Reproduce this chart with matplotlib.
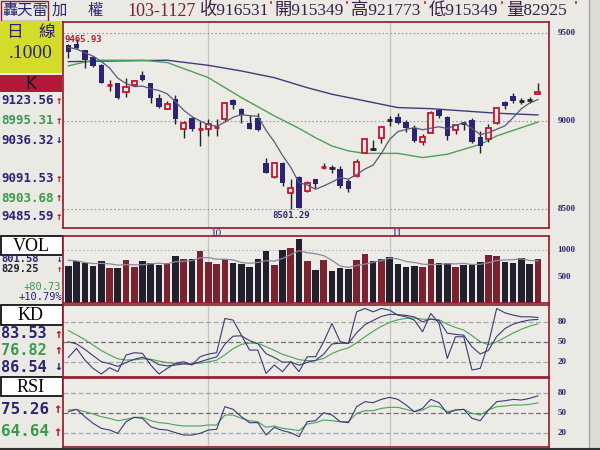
import matplotlib
matplotlib.use("Agg")
import matplotlib.pyplot as plt
from matplotlib.patches import Rectangle

# ---- daily candles (Sep 5 - Nov 27, 2014) ----
opens = [9434, 9438, 9404, 9368, 9320, 9208, 9216, 9167, 9205, 9263, 9216, 9135, 9072, 9129, 8955,
         9021, 8957, 8955, 8966, 9012, 9120, 9068, 8989, 9021, 8765, 8686, 8765, 8591, 8686, 8604,
         8671, 8740, 8733, 8731, 8661, 8690, 8822, 8845, 8907, 9010, 9025, 8996, 8964, 8883, 8936,
         9065, 9027, 8951, 8991, 9006, 8913, 8898, 8989, 9110, 9144, 9118, 9123, 9153.49]
highs = [9441, 9465.93, 9406, 9371, 9324, 9235, 9216, 9248, 9235, 9286, 9220, 9154, 9116, 9150, 9002,
         9025, 9002, 9011, 9011, 9112, 9125, 9078, 9036, 9049, 8794, 8769, 8769, 8670, 8690, 8661,
         8674, 8765, 8750, 8746, 8674, 8784, 8902, 8894, 8974, 9031, 9046, 9008, 8977, 8926, 9059,
         9068, 9031, 8983, 8996, 9021, 8945, 8983, 9083, 9116, 9163, 9135, 9140, 9217.73]
lows = [9362, 9413, 9305, 9311, 9216, 9173, 9129, 9140, 9201, 9229, 9102, 9078, 9068, 8983, 8907,
        8945, 8860, 8917, 8917, 9002, 9068, 8993, 8955, 8945, 8705, 8680, 8633, 8501.29, 8505, 8599,
        8623, 8727, 8708, 8623, 8599, 8686, 8818, 8838, 8879, 8974, 8983, 8940, 8883, 8864, 8932,
        9021, 8894, 8926, 8951, 8879, 8822, 8883, 8983, 9072, 9102, 9097, 9102, 9153.49]
closes = [9396, 9419, 9349, 9315, 9220, 9210, 9133, 9195, 9229, 9235, 9135, 9082, 9097, 9012, 8989,
          8955, 8959, 8987, 8968, 9106, 9093, 9038, 8955, 8951, 8709, 8765, 8648, 8623, 8510, 8648,
          8642, 8742, 8731, 8633, 8614, 8769, 8898, 8840, 8970, 9008, 8989, 8964, 8888, 8913, 9049,
          9030, 8917, 8977, 8989, 8883, 8860, 8964, 9078, 9087, 9116, 9116, 9121, 9165.31]

ma5 = [9420, 9410, 9390, 9370, 9340, 9303, 9245, 9215, 9197, 9200, 9185, 9175, 9156, 9112, 9063,
       9027, 9002, 8980, 8972, 8995, 9023, 9038, 9032, 9029, 8949, 8884, 8806, 8739, 8651, 8639,
       8614, 8633, 8655, 8679, 8672, 8698, 8729, 8751, 8818, 8897, 8941, 8954, 8964, 8952, 8961,
       8969, 8959, 8977, 8992, 8959, 8925, 8935, 8955, 8974, 9021, 9072, 9104, 9123.56]
ma20_idx = [0, 2, 4, 9, 12, 17, 21, 25, 28, 30, 32, 34, 36, 40, 43, 46, 50, 52, 55, 57]
ma20 = [9315, 9337, 9347, 9347, 9334, 9248, 9135, 9031, 8960, 8907, 8860, 8832, 8818, 8818, 8794,
        8813, 8869, 8917, 8964, 8995.31]
ma60_idx = [0, 12, 17, 21, 25, 29, 32, 36, 40, 44, 48, 52, 57]
ma60 = [9339, 9347, 9318, 9286, 9248, 9191, 9154, 9116, 9078, 9072, 9059, 9046, 9036.32]

volume = [704, 797, 767, 704, 797, 661, 674, 815, 693, 791, 760, 722, 760, 896, 828, 828, 989, 772,
          748, 828, 760, 748, 693, 828, 994, 722, 1000, 1055, 1211, 790, 630, 815, 611, 674, 656,
          815, 933, 791, 841, 883, 748, 686, 698, 680, 841, 760, 760, 680, 730, 730, 778, 908, 896,
          778, 760, 859, 748, 829.25]
vol_ma = [815, 800, 770, 750, 754, 745, 721, 730, 728, 727, 747, 756, 745, 786, 793, 807, 860, 863,
          833, 833, 819, 771, 755, 771, 805, 797, 847, 920, 996, 956, 937, 900, 811, 704, 677, 714,
          738, 774, 807, 853, 839, 790, 771, 739, 731, 733, 748, 744, 754, 732, 736, 765, 808, 818,
          824, 840, 808, 801.58]

rsv = [26.5, 40, 22.5, 10, 1.5, 11, 5, 30, 33.5, 32.5, 15, 1.5, 10, 17.5, 20, 15, 27.5, 31.5, 33.5,
       85, 82.5, 60, 37.5, 37.5, 2.5, 15, 5, 20, 5, 27.5, 27.5, 50, 77.5, 50, 47.5, 95, 100, 95, 100,
       97.5, 90, 87.5, 82.5, 65, 92.5, 77.5, 25, 57.5, 57.5, 7.5, 10, 47.5, 100, 93.5, 90, 87.5, 87.5,
       86.54]
k_line = [50, 46.7, 38.6, 29.1, 19.9, 17, 13, 18.7, 23.6, 26.6, 22.7, 15.6, 13.7, 15, 16.7, 16.1, 19.9,
          23.8, 27.1, 46.4, 58.4, 58.9, 51.8, 47, 32.1, 26.4, 19.3, 19.6, 14.7, 19, 21.9, 31.3, 46.7,
          47.8, 47.7, 63.5, 75.6, 82.1, 88, 91.2, 90.8, 89.7, 87.3, 79.9, 84.1, 81.9, 62.9, 61.1, 59.9,
          42.4, 31.6, 36.9, 57.9, 69.8, 76.5, 80.2, 82.7, 83.53]
d_line = [67, 60.3, 53.1, 45.1, 36.7, 30.2, 24.4, 22.5, 22.9, 24.2, 23.7, 21, 18.6, 17.4, 17.2, 16.9,
          17.9, 19.8, 22.2, 30.3, 39.7, 46.1, 48, 47.7, 42.5, 37.1, 31.1, 27.2, 23, 21.6, 21.7, 24.9,
          32.2, 37.4, 40.8, 48.4, 57.5, 65.7, 73.1, 79.1, 83, 85.2, 85.9, 83.9, 83.9, 83.2, 76.5, 71.4,
          67.6, 59.2, 50, 45.6, 49.7, 56.4, 63.1, 68.8, 73.5, 76.82]

rsi_fast = [51.5, 55, 44, 34, 26.5, 24, 19, 36.5, 43, 41.5, 29, 25, 24, 20, 16.5, 16.5, 19, 24, 25, 59,
            55, 44, 35, 35, 16.5, 28, 23, 20, 14, 36.5, 38, 50, 46.5, 36.5, 35, 59, 66.5, 65, 70, 73,
            70, 61.5, 51.5, 56.5, 70, 65, 49, 54, 55, 41.5, 38, 54, 66.5, 68, 70, 69, 71.5, 75.26]
rsi_slow = [54, 55, 51.5, 48, 44, 41.5, 38, 40, 43, 43, 38, 35, 34, 31.5, 30, 30, 30, 31.5, 31.5, 46.5,
            46.5, 41.5, 38, 36.5, 28, 30, 26.5, 25, 23, 33, 35, 39, 38, 36.5, 36.5, 49, 53, 53, 56.5,
            58, 58, 55, 51.5, 54, 60, 59, 51.5, 54, 55, 49, 46.5, 54, 59, 60, 61.5, 61.5, 62.5, 64.64]

month_idx = [17, 39]
month_labels = ["10", "11"]

# ---- colours ----
BG = "#eae9e3"
NAVY = "#2b2474"
RED = "#c4162f"
DARK = "#22202c"
MAROON = "#7a2230"
GREEN = "#3a9a4e"
FRAME = "#8c1c2c"
GRID = "#9a9a9a"

W, H = 600, 450
fig = plt.figure(figsize=(6, 4.5), dpi=100)
fig.patch.set_facecolor(BG)


def rect(x0, y0, x1, y1):
    return [x0 / W, 1 - y1 / H, (x1 - x0) / W, (y1 - y0) / H]


# background layer in pixel coordinates for the side boxes and title
bg = fig.add_axes([0, 0, 1, 1])
bg.set_xlim(0, W)
bg.set_ylim(H, 0)
bg.axis("off")
bg.add_patch(Rectangle((589, 0), 11, H, facecolor="#dcdbd4", edgecolor="none"))
bg.plot([589, 589], [0, H], color="#a8a8a8", lw=1)
bg.add_patch(Rectangle((0.5, 0.5), 47, 20, facecolor="none", edgecolor=FRAME, lw=1))
bg.add_patch(Rectangle((0, 21), 62, 52, facecolor="#d3dc2a", edgecolor="none"))
bg.add_patch(Rectangle((0, 75), 62, 17, facecolor="#b3183a", edgecolor="none"))
for y0, y1, name in [(236, 255, "VOL"), (305, 325, "KD"), (377, 396, "RSI")]:
    bg.add_patch(Rectangle((0.5, y0), 62, y1 - y0, facecolor="white", edgecolor="black", lw=1.2))
    bg.text(31, (y0 + y1) / 2 + 1, name, ha="center", va="center", fontsize=13,
            family="Liberation Serif", color="black")
bg.plot([0, 600], [448.5, 448.5], color="#333333", lw=1.5)

# title line
tfam = ["Liberation Serif", "Noto Sans CJK TC"]
bg.text(2, 10, "轟天雷", fontsize=11, family=["Noto Sans CJK TC"], color=NAVY, va="center")
bg.text(52, 10, "加", fontsize=11, family=["Noto Sans CJK TC"], color=NAVY, va="center")
bg.text(88, 10, "權", fontsize=11, family=["Noto Sans CJK TC"], color=NAVY, va="center")
bg.text(127, 11, "103-1127", fontsize=13, family=tfam, color=MAROON, va="center")
parts = [(200, "收916531"), (275, "開915349"), (351, "高921773"), (429, "低915349"), (506, "量82925")]
for xp, s in parts:
    bg.text(xp, 11, s, fontsize=12.5, family=tfam, color="#3a2048", va="center")
for xp in (269, 345, 423, 500, 574):
    bg.text(xp, 6, "'", fontsize=9, color=RED, va="center", fontweight="bold")

# left panel labels
bg.text(6, 32, "日", fontsize=12, family=["Noto Sans CJK TC"], color=NAVY, va="center")
bg.text(38, 32, "線", fontsize=12, family=["Noto Sans CJK TC"], color=NAVY, va="center")
bg.text(31, 54, ".1000", fontsize=14, family="Liberation Serif", color=NAVY, ha="center", va="center")
bg.text(31, 84, "K", fontsize=12, family="DejaVu Sans", color="#1a1030", ha="center", va="center")

mono = "DejaVu Sans Mono"


def side_value(y, val, col, up, size, bold=True):
    bg.text(1, y, val, fontsize=size, family=mono, color=col, va="center",
            fontweight="bold" if bold else "normal")
    bg.text(62, y, "↑" if up else "↓", fontsize=size * 0.85, family=mono, ha="right", va="center",
            color=RED if up else NAVY, fontweight="bold")


side_value(101, "9123.56", NAVY, True, 9)
side_value(121, "8995.31", GREEN, True, 9)
side_value(140, "9036.32", NAVY, False, 9)
side_value(179, "9091.53", NAVY, True, 9)
side_value(198, "8903.68", GREEN, True, 9)
side_value(217, "9485.59", NAVY, True, 9)
side_value(259.5, "801.58", NAVY, False, 7.5)
side_value(269.5, "829.25", DARK, True, 7.5)
bg.text(61, 286.5, "+80.73", fontsize=7.5, family=mono, color=GREEN, ha="right", va="center")
bg.text(62, 297, "+10.79%", fontsize=7.5, family=mono, color=NAVY, ha="right", va="center")
side_value(334, "83.53", NAVY, True, 11)
side_value(350.5, "76.82", GREEN, True, 11)
side_value(367, "86.54", NAVY, False, 11)
side_value(409, "75.26", NAVY, True, 11.5)
side_value(432, "64.64", GREEN, True, 11.5)

n = len(closes)
x = list(range(n))
XL = (-0.65, 58.35)

ax_k = fig.add_axes(rect(63, 21.5, 549, 228))
ax_v = fig.add_axes(rect(63, 235.7, 549, 303))
ax_kd = fig.add_axes(rect(63, 304.5, 549, 377))
ax_r = fig.add_axes(rect(63, 377.7, 549, 447))

for ax in (ax_k, ax_v, ax_kd, ax_r):
    ax.set_facecolor("#ecebe5")
    ax.set_xlim(*XL)
    ax.set_xticks([])
    ax.set_yticks([])
    for s in ax.spines.values():
        s.set_color(FRAME)
        s.set_linewidth(1.2)
    for m in month_idx:
        ax.axvline(m, color="#c4c4c0", lw=0.9, zorder=0)

# ---- price panel ----
ax_k.set_ylim(8394, 9567)
for lvl in (9500, 9000, 8500):
    ax_k.axhline(lvl, color=GRID, lw=0.8, ls=(0, (1.5, 2)), zorder=0)
ax_k.vlines(x, lows, highs, color=DARK, lw=1, zorder=2)
for i in range(n):
    o, c = opens[i], closes[i]
    if abs(c - o) < 8:
        ax_k.hlines((o + c) / 2, i - 0.32, i + 0.32, color=RED if c >= o else DARK, lw=2, zorder=3)
    elif c > o:
        ax_k.bar(i, c - o, bottom=o, width=0.62, facecolor="#ecebe5", edgecolor=RED, lw=1.3, zorder=3)
    else:
        ax_k.bar(i, o - c, bottom=c, width=0.66, color=NAVY, zorder=3)
ax_k.plot(ma60_idx, ma60, color="#3d3b7c", lw=1, zorder=1)
ax_k.plot(ma20_idx, ma20, color="#4aa25a", lw=1, zorder=1)
ax_k.plot(x, ma5, color="#58587a", lw=0.9, zorder=4)
ax_k.text(-0.5, 9465.93, "9465.93", fontsize=6.5, family=mono, color=RED, va="center", fontweight="bold")
ax_k.text(27, 8501.29 - 12, "8501.29", fontsize=6.5, family=mono, color=NAVY, ha="center",
          va="top", fontweight="bold")
for m, lab in zip(month_idx, month_labels):
    ax_k.text(m + 0.3, -0.005, lab, transform=ax_k.get_xaxis_transform(), fontsize=8,
              family="Liberation Serif", color=NAVY, va="top", clip_on=False)
for lvl in (9500, 9000, 8500):
    ax_k.text(1.017, lvl, str(lvl), transform=ax_k.get_yaxis_transform(), fontsize=6.5,
              family="Liberation Serif", color=NAVY, va="center", fontweight="bold")

# ---- volume panel ----
ax_v.set_ylim(0, 1280)
vcols = [MAROON if closes[i] >= opens[i] else DARK for i in range(n)]
ax_v.bar(x, volume, width=0.8, color=vcols, zorder=2)
ax_v.axhline(1000, color="#b8b8b8", lw=0.8, ls=(0, (1.5, 2)), zorder=1)
ax_v.plot(x, vol_ma, color="#8a8aa0", lw=0.9, zorder=3)
for lvl in (1000, 500):
    ax_v.text(1.017, lvl, str(lvl), transform=ax_v.get_yaxis_transform(), fontsize=6.5,
              family="Liberation Serif", color=NAVY, va="center", fontweight="bold")

# ---- KD / RSI panels ----
ax_kd.set_ylim(-3, 106)
ax_r.set_ylim(-1.5, 102.5)
for ax in (ax_kd, ax_r):
    for lvl in (80, 50, 20):
        ax.axhline(lvl, color="#707070" if lvl == 50 else "#a8a8a8", lw=0.9, ls=(0, (4, 2)), zorder=1)
        ax.text(1.017, lvl, str(lvl), transform=ax.get_yaxis_transform(), fontsize=6.5,
                family="Liberation Serif", color=NAVY, va="center", fontweight="bold")
ax_kd.plot(x, rsv, color="#3a3a78", lw=0.8, zorder=3)
ax_kd.plot(x, k_line, color="#3a3a78", lw=0.8, zorder=3)
ax_kd.plot(x, d_line, color="#4aa25a", lw=0.8, zorder=2)

ax_r.plot(x, rsi_fast, color="#3a3a78", lw=0.8, zorder=3)
ax_r.plot(x, rsi_slow, color="#4aa25a", lw=0.8, zorder=2)

fig.savefig("out.png", dpi=100, facecolor=fig.get_facecolor())
